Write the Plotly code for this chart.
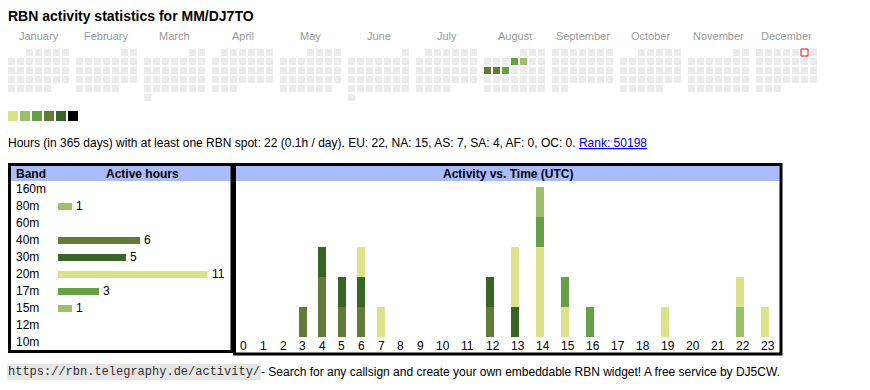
import calendar
import plotly.graph_objects as go

W, H = 870, 390
FONT = "Arial, 'Liberation Sans', Helvetica, sans-serif"
MONO = "'Liberation Mono', 'Courier New', monospace"

# ---------------- data ----------------
title = "RBN activity statistics for MM/DJ7TO"
year = 2025
months = ["January", "February", "March", "April", "May", "June", "July",
          "August", "September", "October", "November", "December"]
active_dates = ["2025-08-07", "2025-08-08", "2025-08-11", "2025-08-12", "2025-08-13"]
active_levels = [3, 2, 4, 4, 3]
today = "2025-12-06"
level_colors = ["#dbe28a", "#9cc068", "#679f45", "#647a3a", "#386426", "#000000"]
empty_color = "#ebebeb"

window_days = 365
total_hours = 22
hours_per_day = 0.1
continents = ["EU", "NA", "AS", "SA", "AF", "OC"]
continent_hours = [22, 15, 7, 4, 0, 0]
rank = 50198

bands = ["160m", "80m", "60m", "40m", "30m", "20m", "17m", "15m", "12m", "10m"]
band_hours = [0, 1, 0, 6, 5, 11, 3, 1, 0, 0]
band_colors = ["#dbe28a", "#9cc068", "#679f45", "#647a3a", "#386426",
               "#dbe28a", "#679f45", "#9cc068", "#647a3a", "#386426"]

hour_labels = [str(h) for h in range(24)]
#                 0  1  2  3  4  5  6  7  8  9 10 11 12 13 14 15 16 17 18 19 20 21 22 23
hourly = {
    "160m": [0, 0, 0, 0, 0, 0, 0, 0, 0, 0, 0, 0, 0, 0, 0, 0, 0, 0, 0, 0, 0, 0, 0, 0],
    "80m":  [0, 0, 0, 0, 0, 0, 0, 0, 0, 0, 0, 0, 0, 0, 0, 0, 0, 0, 0, 0, 0, 0, 1, 0],
    "60m":  [0, 0, 0, 0, 0, 0, 0, 0, 0, 0, 0, 0, 0, 0, 0, 0, 0, 0, 0, 0, 0, 0, 0, 0],
    "40m":  [0, 0, 0, 1, 2, 1, 1, 0, 0, 0, 0, 0, 1, 0, 0, 0, 0, 0, 0, 0, 0, 0, 0, 0],
    "30m":  [0, 0, 0, 0, 1, 1, 1, 0, 0, 0, 0, 0, 1, 1, 0, 0, 0, 0, 0, 0, 0, 0, 0, 0],
    "20m":  [0, 0, 0, 0, 0, 0, 1, 1, 0, 0, 0, 0, 0, 2, 3, 1, 0, 0, 0, 1, 0, 0, 1, 1],
    "17m":  [0, 0, 0, 0, 0, 0, 0, 0, 0, 0, 0, 0, 0, 0, 1, 1, 1, 0, 0, 0, 0, 0, 0, 0],
    "15m":  [0, 0, 0, 0, 0, 0, 0, 0, 0, 0, 0, 0, 0, 0, 1, 0, 0, 0, 0, 0, 0, 0, 0, 0],
    "12m":  [0, 0, 0, 0, 0, 0, 0, 0, 0, 0, 0, 0, 0, 0, 0, 0, 0, 0, 0, 0, 0, 0, 0, 0],
    "10m":  [0, 0, 0, 0, 0, 0, 0, 0, 0, 0, 0, 0, 0, 0, 0, 0, 0, 0, 0, 0, 0, 0, 0, 0],
}

# ---------------- layout constants (pixels) ----------------
CAL_LEFT, CAL_TOP = 8, 49
CELL, CELL_PITCH, MONTH_PITCH = 7, 9, 68
LEG_LEFT, LEG_TOP, LEG_SIZE, LEG_PITCH = 8, 111, 10, 12
BAND_ROW0, BAND_PITCH = 189, 17
BAR_LEFT, PX_PER_HOUR = 58, 13.6
HOUR_LEFT, HOUR_BASE, HOUR_UNIT = 234, 337, 30
HEADER_BLUE = "#aabbff"
FS = 12


def cell_pos(date_str):
    y_, m_, d_ = (int(v) for v in date_str.split("-"))
    first_wd, _ = calendar.monthrange(y_, m_)
    idx = first_wd + d_ - 1
    wd, row = idx % 7, idx // 7
    return (CAL_LEFT + (m_ - 1) * MONTH_PITCH + wd * CELL_PITCH + CELL / 2,
            CAL_TOP + row * CELL_PITCH + CELL / 2)


fig = go.Figure()

# ---- calendar ----
active = dict(zip(active_dates, active_levels))
cx, cy, cc = [], [], []
for m in range(12):
    _, ndays = calendar.monthrange(year, m + 1)
    for d in range(1, ndays + 1):
        key = f"{year}-{m + 1:02d}-{d:02d}"
        x, y = cell_pos(key)
        cx.append(x)
        cy.append(y)
        lvl = active.get(key)
        cc.append(level_colors[lvl - 1] if lvl else empty_color)
fig.add_trace(go.Scatter(x=cx, y=cy, mode="markers", xaxis="x", yaxis="y",
                         marker=dict(symbol="square", size=CELL, color=cc, line=dict(width=0)),
                         hoverinfo="skip", showlegend=False))
tx, ty = cell_pos(today)
fig.add_trace(go.Scatter(x=[tx], y=[ty], mode="markers", xaxis="x", yaxis="y",
                         marker=dict(symbol="square", size=CELL, color="white",
                                     line=dict(width=1, color="#ff0000")),
                         hoverinfo="skip", showlegend=False))
# colour legend squares
fig.add_trace(go.Scatter(
    x=[LEG_LEFT + LEG_SIZE / 2 + k * LEG_PITCH for k in range(len(level_colors))],
    y=[LEG_TOP + LEG_SIZE / 2] * len(level_colors),
    mode="markers", xaxis="x", yaxis="y",
    marker=dict(symbol="square", size=LEG_SIZE, color=level_colors, line=dict(width=0)),
    hoverinfo="skip", showlegend=False))

# ---- band bars ----
fig.add_trace(go.Bar(y=bands, x=band_hours, orientation="h", xaxis="x2", yaxis="y2",
                     width=7 / BAND_PITCH, marker=dict(color=band_colors, line=dict(width=0)),
                     hoverinfo="skip", showlegend=False))

# ---- hour stacked bars (table cells sized by label width) ----
label_centers, bar_centers = [], []
left = HOUR_LEFT
for lab in hour_labels:
    w = 14.2 + 5.4 * len(lab)
    label_centers.append(left + w / 2)
    bar_centers.append(left + w / 2 - (2.5 if len(lab) > 1 else 0))
    left += w
for b, col in zip(bands, band_colors):
    fig.add_trace(go.Bar(x=bar_centers, y=hourly[b], xaxis="x3", yaxis="y3", width=8,
                         marker=dict(color=col, line=dict(width=0)),
                         hoverinfo="skip", showlegend=False))
max_stack = max(sum(hourly[b][h] for b in bands) for h in range(24))

ann = []


def text(x, y, s, size=FS, color="black", xanchor="left", family=FONT, **kw):
    d = dict(x=x, y=y, xref="x", yref="y", text=s, showarrow=False, xanchor=xanchor,
             yanchor="middle", font=dict(family=family, size=size, color=color),
             borderwidth=0, borderpad=0)
    d.update(kw)
    ann.append(d)


text(8, 15.5, f"<b>{title}</b>", size=14)
for m, name in enumerate(months):
    text(CAL_LEFT + m * MONTH_PITCH + (7 * CELL_PITCH - 2) / 2, 35.5, name,
         size=11, color="#999999", xanchor="center")

cont = ", ".join(f"{c}: {v}" for c, v in zip(continents, continent_hours))
line = (f"Hours (in {window_days} days) with at least one RBN spot: {total_hours} "
        f"({hours_per_day}h / day). {cont}. "
        f"<a href='https://rbn.telegraphy.de/activity/'><span style='color:#0000ee;"
        f"text-decoration:underline'>Rank: {rank}</span></a>")
text(8, 142.5, line)

# table headers
text(16, 173.5, "<b>Band</b>")
text(142, 173.5, "<b>Active hours</b>", xanchor="center")
text(507.5, 173.5, "<b>Activity vs. Time (UTC)</b>", xanchor="center")
for i, b in enumerate(bands):
    text(16, BAND_ROW0 + i * BAND_PITCH, b)
for i, (b, v) in enumerate(zip(bands, band_hours)):
    if v > 0:
        ann.append(dict(x=v, y=b, xref="x2", yref="y2", text=str(v), showarrow=False,
                        xanchor="left", yanchor="middle", xshift=4,
                        font=dict(family=FONT, size=FS, color="black"),
                        borderwidth=0, borderpad=0))
for c, lab in zip(label_centers, hour_labels):
    text(c, 346, lab, xanchor="center")

# footer
text(7, 371.5, "https://rbn.telegraphy.de/activity/", size=12, color="#333333",
     family=MONO, bgcolor="#e6e6e6", borderpad=1)
text(261, 371.5, "- Search for any callsign and create your own embeddable RBN widget! "
     "A free service by DJ5CW.")

shapes = [
    dict(type="rect", xref="x", yref="y", x0=11, x1=231, y0=166, y1=181,
         fillcolor=HEADER_BLUE, line=dict(width=0), layer="below"),
    dict(type="rect", xref="x", yref="y", x0=236, x1=779.5, y0=166, y1=181,
         fillcolor=HEADER_BLUE, line=dict(width=0), layer="below"),
    dict(type="rect", xref="x", yref="y", x0=9.5, x1=232, y0=164.5, y1=351.5,
         line=dict(width=3, color="black")),
    dict(type="rect", xref="x", yref="y", x0=234.5, x1=781, y0=164.5, y1=354,
         line=dict(width=3, color="black")),
]

hidden = dict(visible=False, fixedrange=True, showgrid=False, zeroline=False)
n_bands = len(bands)
fig.update_layout(
    width=W, height=H, autosize=False,
    margin=dict(l=0, r=0, t=0, b=0, pad=0),
    paper_bgcolor="white", plot_bgcolor="rgba(0,0,0,0)",
    barmode="stack", bargap=0,
    xaxis=dict(domain=[0, 1], range=[0, W], **hidden),
    yaxis=dict(domain=[0, 1], range=[H, 0], **hidden),
    xaxis2=dict(domain=[BAR_LEFT / W, (BAR_LEFT + PX_PER_HOUR * max(band_hours)) / W],
                range=[0, max(band_hours)], anchor="y2", **hidden),
    yaxis2=dict(domain=[1 - (BAND_ROW0 + (n_bands - 0.5) * BAND_PITCH) / H,
                        1 - (BAND_ROW0 - 0.5 * BAND_PITCH) / H],
                type="category", categoryorder="array", categoryarray=bands,
                range=[n_bands - 0.5, -0.5], anchor="x2", **hidden),
    xaxis3=dict(domain=[233 / W, 782 / W], range=[233, 782], anchor="y3", **hidden),
    yaxis3=dict(domain=[1 - HOUR_BASE / H, 1 - (HOUR_BASE - HOUR_UNIT * max_stack) / H],
                range=[0, max_stack], anchor="x3", **hidden),
    annotations=ann,
    shapes=shapes,
    font=dict(family=FONT, size=FS, color="black"),
    showlegend=False,
)

fig.write_html("out.html", config={"displayModeBar": False, "staticPlot": True},
               post_script="document.body.style.margin='0';document.body.style.overflow='hidden';")
